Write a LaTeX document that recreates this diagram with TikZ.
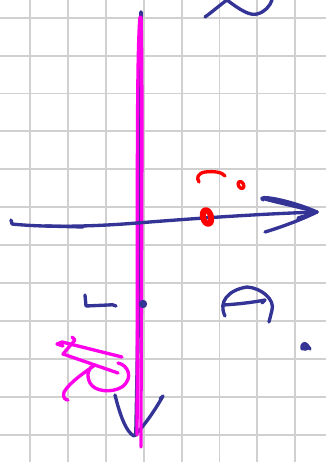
\documentclass[tikz,border=0pt]{standalone}
\usepackage{xcolor}
\definecolor{penblue}{RGB}{52,52,150}
\definecolor{penpink}{RGB}{255,0,235}
\definecolor{penred}{RGB}{255,0,0}
\definecolor{gridgray}{RGB}{208,208,208}

\begin{document}
\begin{tikzpicture}[
  x=0.02cm, y=-0.02cm,
  gridline/.style={draw=gridgray, line width=1.1pt},
  blue ink/.style={draw=penblue, line width=1.9pt, line cap=round, line join=round},
  pink ink/.style={draw=penpink, line width=1.9pt, line cap=round, line join=round},
  red ink/.style={draw=penred, line width=1.9pt, line cap=round, line join=round}
]
\useasboundingbox[fill=white] (0,0) rectangle (326,462);

% grid
\foreach \gx in {0,...,7}
  \draw[gridline] ({30+37.9*\gx},0) -- ({30+37.9*\gx},462);
\foreach \gy in {0,...,11}
  \draw[gridline] (0,{17.7+37.9*\gy}) -- (326,{17.7+37.9*\gy});

% vertical axis with head
\draw[blue ink, line width=2.2pt] (141,12) .. controls (140,150) and (139,300) .. (136,435);
\draw[blue ink] (115,395) .. controls (120,415) and (126,432) .. (134,436)
                .. controls (145,425) and (155,410) .. (163,396) -- (160,399);
\draw[pink ink] (140,17) .. controls (136,60) and (138,250) .. (137,435);
\draw[pink ink] (141,17) .. controls (143,80) and (141,300) .. (141,447);

% horizontal axis with head
\draw[blue ink] (11,220) -- (12,224) .. controls (50,228) and (100,226) .. (137,223)
                .. controls (200,218) and (260,214) .. (317,212);
\draw[blue ink] (45,226) -- (83,227);
\draw[blue ink] (263,200) .. controls (255,194) and (290,200) .. (317,212)
                .. controls (295,206) and (275,202) .. (265,199);
\draw[blue ink] (298,218) -- (317,212);
\draw[blue ink] (265,232) .. controls (285,226) and (305,218) .. (317,212);

% top right curve
\draw[blue ink] (205,17) .. controls (212,12) and (220,5) .. (227,0)
                .. controls (240,10) and (250,16) .. (257,14)
                .. controls (265,12) and (270,6) .. (272,0);

% red marks
\draw[red ink] (199,182) .. controls (196,178) and (198,173) .. (205,172)
               .. controls (214,171) and (222,172) .. (225,176);
\draw[red ink] (241,185) ellipse[x radius=2.6, y radius=3.8, rotate=30];
\draw[red ink, line width=3.4pt] (207,217) ellipse[x radius=4, y radius=7, rotate=15];

% left tick and dot
\draw[blue ink] (85,295) -- (86,306) -- (108,305) .. controls (111,304) and (114,305) .. (116,306);
\fill[penblue] (143,304) circle (4.2);

% right half circle
\draw[blue ink] (225,316) .. controls (218,302) and (228,290) .. (247,287)
                .. controls (262,288) and (275,300) .. (272,310) -- (269,322);
\draw[blue ink] (223,305) .. controls (240,304) and (255,302) .. (265,300) -- (262,303);

% small mark
\fill[penblue] (305,348) ellipse[x radius=4, y radius=2.8];
\draw[blue ink] (302,349) .. controls (301,344) and (305,342) .. (307,345)
                -- (310,349);

% pink scribble
\draw[pink ink] (63,346) -- (57,344) -- (62,342) -- (122,357);
\draw[pink ink] (72,337) -- (75,340) -- (63,354) -- (118,373);
\draw[pink ink] (118,363) .. controls (128,365) and (134,378) .. (122,387)
                .. controls (112,393) and (95,392) .. (90,383)
                .. controls (86,375) and (88,367) .. (95,365)
                .. controls (85,372) and (70,382) .. (64,392)
                .. controls (62,398) and (66,400) .. (68,400);
\end{tikzpicture}
\end{document}
